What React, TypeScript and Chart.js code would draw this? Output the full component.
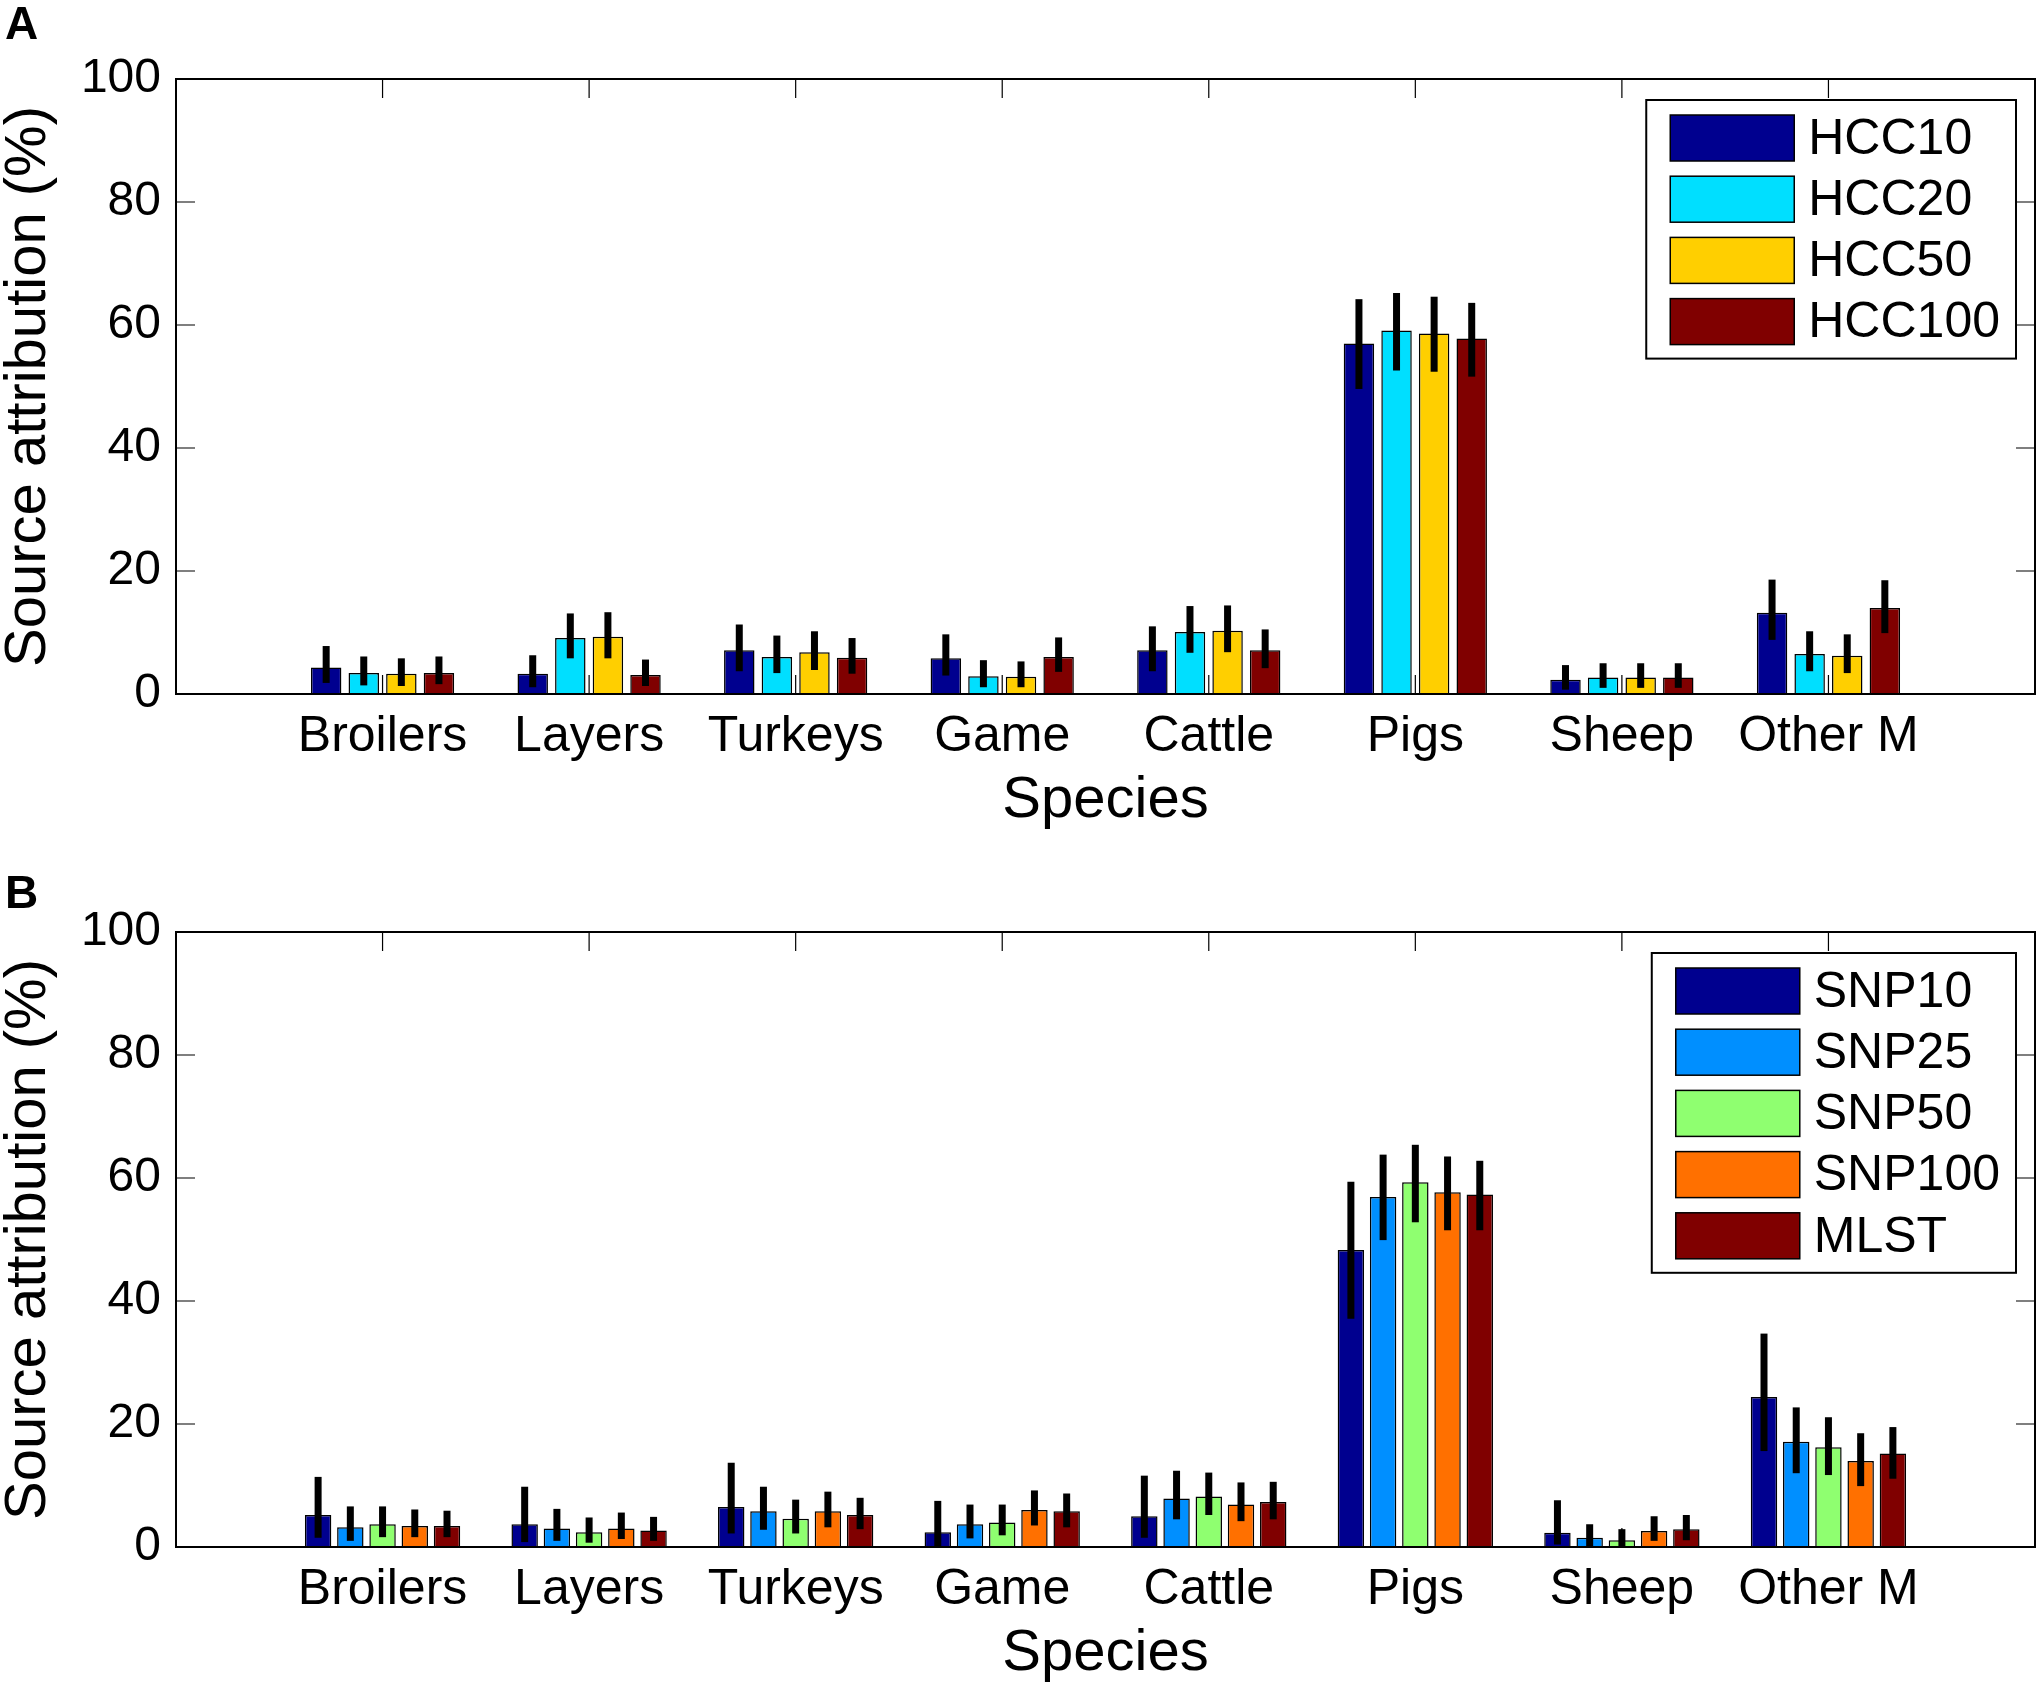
import { useEffect, useRef } from "react";
import { Chart, registerables } from "chart.js";

Chart.register(...registerables);

const FONT = '"Liberation Sans", Arial, sans-serif';
const W = 2042;
const H = 833;
const TICK = 19;

const species = ["Broilers", "Layers", "Turkeys", "Game", "Cattle", "Pigs", "Sheep", "Other M"];
const yTicks = [0, 20, 40, 60, 80, 100];

// panel A: HCC thresholds
const hccNames = ["HCC10", "HCC20", "HCC50", "HCC100"];
const hccColors = ["#00008f", "#00dfff", "#ffcf00", "#800000"];
const hcc10 = [4.3, 3.3, 7.1, 5.8, 7.1, 57.0, 2.3, 13.2];
const hcc10Lo = [1.8, 1.1, 3.7, 3.0, 3.7, 49.6, 0.7, 8.8];
const hcc10Hi = [7.8, 6.3, 11.3, 9.7, 11.0, 64.2, 4.7, 18.6];
const hcc20 = [3.4, 9.1, 6.0, 2.9, 10.1, 59.1, 2.7, 6.5];
const hcc20Lo = [1.4, 5.8, 3.4, 1.1, 6.7, 52.6, 1.0, 3.7];
const hcc20Hi = [6.1, 13.1, 9.5, 5.5, 14.3, 65.2, 5.0, 10.2];
const hcc50 = [3.3, 9.3, 6.8, 2.8, 10.3, 58.6, 2.7, 6.2];
const hcc50Lo = [1.3, 5.8, 3.9, 1.1, 6.8, 52.4, 1.0, 3.4];
const hcc50Hi = [5.8, 13.3, 10.2, 5.3, 14.4, 64.6, 5.0, 9.7];
const hcc100 = [3.4, 3.1, 5.9, 6.0, 7.1, 57.8, 2.7, 14.0];
const hcc100Lo = [1.6, 1.3, 3.3, 3.6, 4.2, 51.6, 1.0, 9.9];
const hcc100Hi = [6.1, 5.6, 9.1, 9.2, 10.5, 63.6, 5.0, 18.5];

// panel B: SNP thresholds and MLST
const snpNames = ["SNP10", "SNP25", "SNP50", "SNP100", "MLST"];
const snpColors = ["#00008f", "#008fff", "#8fff70", "#ff7000", "#800000"];
const snp10 = [5.2, 3.7, 6.5, 2.4, 5.0, 48.3, 2.3, 24.4];
const snp10Lo = [1.5, 0.8, 2.2, 0.0, 1.5, 37.1, 0.4, 15.6];
const snp10Hi = [11.4, 9.8, 13.7, 7.5, 11.6, 59.4, 7.6, 34.7];
const snp25 = [3.2, 3.0, 5.8, 3.7, 7.9, 56.9, 1.5, 17.1];
const snp25Lo = [1.0, 1.0, 2.8, 1.4, 4.5, 49.9, 0.0, 12.0];
const snp25Hi = [6.6, 6.2, 9.8, 6.9, 12.4, 63.8, 3.7, 22.7];
const snp50 = [3.7, 2.4, 4.6, 4.0, 8.2, 59.3, 1.1, 16.2];
const snp50Lo = [1.6, 0.7, 2.2, 1.9, 5.2, 52.8, 0.0, 11.7];
const snp50Hi = [6.6, 4.8, 7.7, 6.9, 12.1, 65.4, 2.9, 21.1];
const snp100 = [3.4, 3.0, 5.8, 6.0, 6.9, 57.7, 2.6, 14.0];
const snp100Lo = [1.6, 1.3, 3.2, 3.5, 4.2, 51.5, 1.0, 9.9];
const snp100Hi = [6.1, 5.6, 9.0, 9.2, 10.5, 63.5, 5.0, 18.5];
const mlst = [3.4, 2.7, 5.2, 5.8, 7.3, 57.3, 2.9, 15.2];
const mlstLo = [1.6, 1.0, 2.9, 3.2, 4.5, 51.5, 1.1, 11.1];
const mlstHi = [5.9, 4.9, 8.0, 8.7, 10.6, 62.8, 5.2, 19.5];

const decorPlugin = {
  id: "decor",
  beforeDatasetsDraw(chart: any) {
    const { ctx, chartArea: a, scales } = chart;
    ctx.save();
    ctx.strokeStyle = "#000";
    ctx.lineWidth = 1.2;
    ctx.beginPath();
    for (let i = 1; i <= species.length; i++) {
      const x = scales.x.getPixelForValue(i);
      ctx.moveTo(x, a.bottom);
      ctx.lineTo(x, a.bottom - TICK);
      ctx.moveTo(x, a.top);
      ctx.lineTo(x, a.top + TICK);
    }
    for (const v of yTicks) {
      const y = scales.y.getPixelForValue(v);
      ctx.moveTo(a.left, y);
      ctx.lineTo(a.left + TICK, y);
      ctx.moveTo(a.right, y);
      ctx.lineTo(a.right - TICK, y);
    }
    ctx.stroke();
    ctx.restore();
  },
  afterDatasetsDraw(chart: any) {
    const { ctx, chartArea: a, scales } = chart;
    ctx.save();
    // error bars
    ctx.strokeStyle = "#000";
    ctx.lineWidth = 7;
    ctx.lineCap = "butt";
    chart.data.datasets.forEach((ds: any, di: number) => {
      const meta = chart.getDatasetMeta(di);
      meta.data.forEach((bar: any, i: number) => {
        ctx.beginPath();
        ctx.moveTo(bar.x, scales.y.getPixelForValue(ds.errLow[i]));
        ctx.lineTo(bar.x, scales.y.getPixelForValue(ds.errHigh[i]));
        ctx.stroke();
      });
    });
    // axes box
    ctx.lineWidth = 2;
    ctx.strokeRect(a.left, a.top, a.right - a.left, a.bottom - a.top);
    ctx.restore();
  },
  afterDraw(chart: any, _args: any, opts: any) {
    const { ctx, chartArea: a } = chart;
    const sets = chart.data.datasets;
    ctx.save();
    // legend
    ctx.font = `50px ${FONT}`;
    let maxW = 0;
    sets.forEach((ds: any) => {
      maxW = Math.max(maxW, ctx.measureText(ds.label).width);
    });
    const swW = 124;
    const swH = 46;
    const pitch = 61.2;
    const boxW = 24 + swW + 14 + maxW + 16;
    const boxH = 15 + (sets.length - 1) * pitch + swH + 14;
    const bx = a.right - 19 - boxW;
    const by = a.top + 21;
    ctx.fillStyle = "#fff";
    ctx.fillRect(bx, by, boxW, boxH);
    ctx.strokeStyle = "#000";
    ctx.lineWidth = 2;
    ctx.strokeRect(bx, by, boxW, boxH);
    ctx.textAlign = "left";
    ctx.textBaseline = "middle";
    sets.forEach((ds: any, i: number) => {
      const sy = by + 15 + i * pitch;
      ctx.fillStyle = ds.backgroundColor;
      ctx.fillRect(bx + 24, sy, swW, swH);
      ctx.lineWidth = 1.5;
      ctx.strokeRect(bx + 24, sy, swW, swH);
      ctx.fillStyle = "#000";
      ctx.fillText(ds.label, bx + 24 + swW + 14, sy + swH / 2 + 2);
    });
    // panel letter
    ctx.font = `bold 46px ${FONT}`;
    ctx.textBaseline = "alphabetic";
    ctx.fillText(opts.letter, opts.letterX, opts.letterY);
    ctx.restore();
  },
};

interface PanelProps {
  top: number;
  letter: string;
  letterY: number;
  names: string[];
  colors: string[];
  values: number[][];
  lows: number[][];
  highs: number[][];
  catPct: number;
  barPct: number;
}

const Panel = ({ top, letter, letterY, names, colors, values, lows, highs, catPct, barPct }: PanelProps) => {
  const chartRef = useRef<HTMLCanvasElement | null>(null);

  useEffect(() => {
    const ctx = chartRef.current?.getContext("2d");
    if (!ctx) return;

    const chart = new Chart(ctx, {
      type: "bar",
      data: {
        datasets: names.map((name, s) => ({
          label: name,
          data: values[s].map((v, i) => ({ x: i + 1, y: v })),
          errLow: lows[s],
          errHigh: highs[s],
          backgroundColor: colors[s],
          borderColor: "#000",
          borderWidth: 1.5,
          categoryPercentage: catPct,
          barPercentage: barPct,
        })) as any,
      },
      options: {
        responsive: false,
        animation: false,
        devicePixelRatio: 1,
        layout: { padding: { top: 79, right: 7, left: 0, bottom: 0 } },
        plugins: {
          legend: { display: false },
          tooltip: { enabled: false },
          decor: { letter, letterX: 5, letterY },
        } as any,
        scales: {
          x: {
            type: "linear",
            min: 0,
            max: species.length + 1,
            offset: false,
            grid: { display: false, drawTicks: false, tickLength: 0, offset: false },
            border: { display: false },
            ticks: {
              stepSize: 1,
              autoSkip: false,
              maxRotation: 0,
              padding: 18.5,
              color: "#000",
              font: { family: FONT, size: 50, lineHeight: 1 },
              callback: (v: any) => species[Number(v) - 1] ?? "",
            },
            title: {
              display: true,
              text: "Species",
              color: "#000",
              font: { family: FONT, size: 58, lineHeight: 1 },
              padding: { top: 0, bottom: 3.5 },
            },
            afterFit: (s: any) => {
              s.height = 139;
              s.paddingLeft = 0;
              s.paddingRight = 0;
            },
          },
          y: {
            min: 0,
            max: 100,
            grid: { display: false, drawTicks: false, tickLength: 0 },
            border: { display: false },
            ticks: {
              stepSize: 20,
              padding: 15,
              color: "#000",
              font: { family: FONT, size: 48, lineHeight: 1 },
            },
            title: {
              display: true,
              text: "Source attribution (%)",
              color: "#000",
              font: { family: FONT, size: 58, lineHeight: 1 },
              padding: { top: 0, bottom: 0 },
            },
            afterFit: (s: any) => {
              s.width = 176;
            },
          },
        },
      },
      plugins: [decorPlugin as any],
    });

    return () => {
      chart.destroy();
    };
  }, []);

  return (
    <canvas
      ref={chartRef}
      width={W}
      height={H}
      style={{ position: "absolute", left: 0, top, width: W, height: H }}
    />
  );
};

export default function App() {
  return (
    <div
      style={{
        position: "absolute",
        left: 0,
        top: 0,
        width: W,
        height: 1686,
        background: "#fff",
        overflow: "hidden",
      }}
    >
      <Panel
        top={0}
        letter="A"
        letterY={39}
        names={hccNames}
        colors={hccColors}
        values={[hcc10, hcc20, hcc50, hcc100]}
        lows={[hcc10Lo, hcc20Lo, hcc50Lo, hcc100Lo]}
        highs={[hcc10Hi, hcc20Hi, hcc50Hi, hcc100Hi]}
        catPct={0.728}
        barPct={0.81}
      />
      <Panel
        top={853}
        letter="B"
        letterY={55}
        names={snpNames}
        colors={snpColors}
        values={[snp10, snp25, snp50, snp100, mlst]}
        lows={[snp10Lo, snp25Lo, snp50Lo, snp100Lo, mlstLo]}
        highs={[snp10Hi, snp25Hi, snp50Hi, snp100Hi, mlstHi]}
        catPct={0.78}
        barPct={0.82}
      />
    </div>
  );
}
